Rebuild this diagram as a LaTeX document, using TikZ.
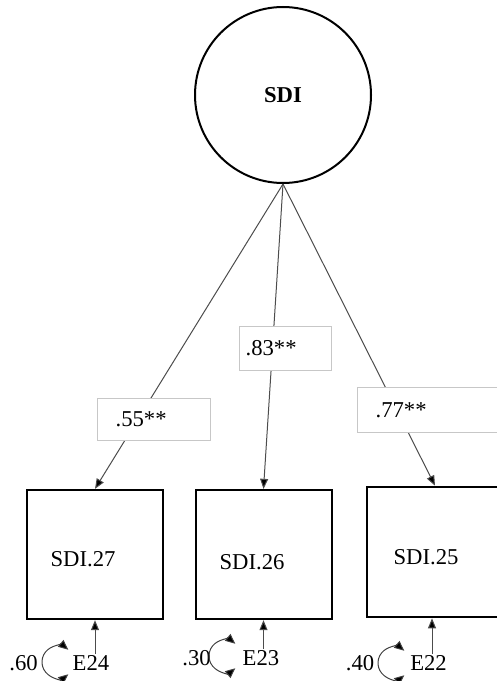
\documentclass[tikz,border=0pt]{standalone}
\usepackage{fontspec}
\setmainfont{Liberation Serif}
\usetikzlibrary{arrows.meta}

\tikzset{every picture/.style={line width=0.75pt}}
\tikzset{
  obsbox/.style={draw,line width=1.5pt,minimum width=102pt,minimum height=97pt,inner sep=0pt},
  coefbox/.style={draw=black!22,fill=white,line width=0.9pt,align=left,anchor=north west},
  path/.style={draw=black!70,-{Triangle[length=7.5pt,width=6pt,fill=black]}},
  errpath/.style={draw=black!70,-{Triangle[length=7.5pt,width=6pt,fill=black]}},
  varloop/.style={draw=black!75,{Triangle[length=7.5pt,width=6.5pt,fill=black]}-{Triangle[length=7.5pt,width=6.5pt,fill=black]}},
  txt/.style={inner sep=0.75pt,font=\fontsize{17}{20}\selectfont}
}

\begin{document}
\begin{tikzpicture}[x=0.75pt,y=0.75pt,yscale=-1,xscale=1]
\path[use as bounding box] (0,0) rectangle (496,681);

%Shape: Circle [latent]
\node[circle,draw,line width=1.5pt,minimum size=132pt,inner sep=0pt,font=\fontsize{17}{20}\selectfont\bfseries] (sdi) at (283,95) {SDI};

%Shape: Rectangle [observed]
\node[obsbox] (b27) at (95,554.5) {};
\node[obsbox] (b26) at (263.5,554.5) {};
\node[obsbox,minimum height=98pt] (b25) at (435,552) {};

% Text Node
\node[txt] (t27) at (83,559) {SDI.27};
% Text Node
\node[txt] (t26) at (252,562) {SDI.26};
% Text Node
\node[txt] (t25) at (426,557) {SDI.25};

%Straight Lines [loadings]
\draw[path] (sdi.south) -- (b27.north);
\draw[path] (sdi.south) -- (b26.north);
\draw[path] (sdi.south) -- (b25.north);

% Text Node [coefficients]
\node[coefbox,inner xsep=13.5pt,text width=57.75pt,minimum height=31.5pt] (c27) at (97,398) {\fontsize{17}{20}\selectfont .55**};
% Text Node
\node[coefbox,inner xsep=4.5pt,text width=60pt,minimum height=33pt] (c26) at (239,326) {\fontsize{17}{20}\selectfont .83**};
% Text Node
\node[coefbox,inner xsep=13.5pt,text width=81.75pt,minimum height=33.75pt] (c25) at (357,387) {\fontsize{17}{20}\selectfont .77**};

% Text Node [errors]
\node[txt] (e24) at (91,663) {E24};
\node[txt] (e23) at (261,658) {E23};
\node[txt] (e22) at (428.5,663) {E22};
% Text Node [variances]
\node[txt] (v24) at (23.5,663) {.60};
\node[txt] (v23) at (196.5,658) {.30};
\node[txt] (v22) at (360,663) {.40};

%Straight Lines [error paths]
\draw[errpath] (e24.north -| b27.south) -- (b27.south);
\draw[errpath] (e23.north -| b26.south) -- (b26.south);
\draw[errpath] (e22.north -| 432,0) -- (b25.south -| 432,0);

%Curve Lines [variance loops]
\draw[varloop] (58,662) ++(50:16) arc[start angle=50,end angle=310,radius=16];
\draw[varloop] (225,656) ++(50:16) arc[start angle=50,end angle=310,radius=16];
\draw[varloop] (394,663) ++(50:16) arc[start angle=50,end angle=310,radius=16];
\end{tikzpicture}
\end{document}
